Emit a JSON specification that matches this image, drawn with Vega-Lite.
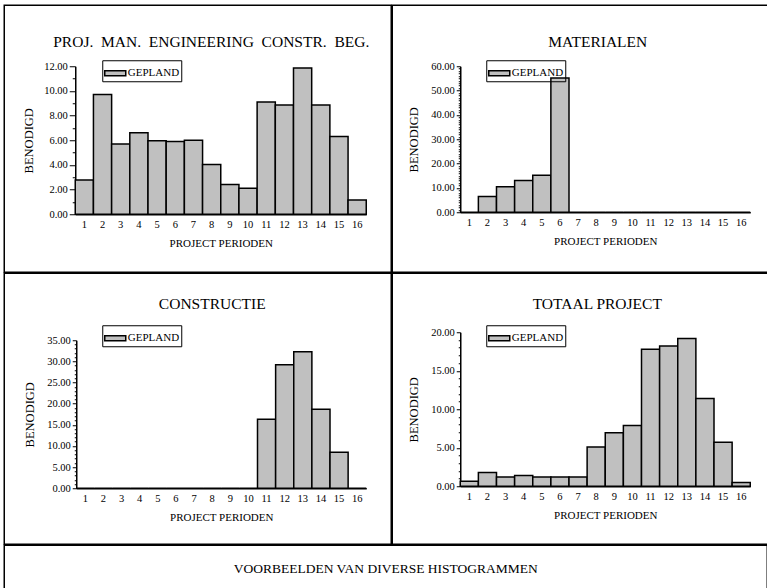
{
  "$schema": "https://vega.github.io/schema/vega-lite/v6.json",
  "padding": {"left": 3.25, "top": 4.25, "right": 0, "bottom": 0},
  "datasets": {
    "proj": [
      {"periode": 1, "benodigd": 2.77}, {"periode": 2, "benodigd": 9.7}, {"periode": 3, "benodigd": 5.7}, {"periode": 4, "benodigd": 6.6},
      {"periode": 5, "benodigd": 5.95}, {"periode": 6, "benodigd": 5.9}, {"periode": 7, "benodigd": 6.0}, {"periode": 8, "benodigd": 4.03},
      {"periode": 9, "benodigd": 2.42}, {"periode": 10, "benodigd": 2.1}, {"periode": 11, "benodigd": 9.1}, {"periode": 12, "benodigd": 8.85},
      {"periode": 13, "benodigd": 11.85}, {"periode": 14, "benodigd": 8.85}, {"periode": 15, "benodigd": 6.3}, {"periode": 16, "benodigd": 1.15}
    ],
    "mat": [
      {"periode": 1, "benodigd": 0}, {"periode": 2, "benodigd": 6.5}, {"periode": 3, "benodigd": 10.5}, {"periode": 4, "benodigd": 13.0},
      {"periode": 5, "benodigd": 15.2}, {"periode": 6, "benodigd": 55.2}, {"periode": 7, "benodigd": 0}, {"periode": 8, "benodigd": 0},
      {"periode": 9, "benodigd": 0}, {"periode": 10, "benodigd": 0}, {"periode": 11, "benodigd": 0}, {"periode": 12, "benodigd": 0},
      {"periode": 13, "benodigd": 0}, {"periode": 14, "benodigd": 0}, {"periode": 15, "benodigd": 0}, {"periode": 16, "benodigd": 0}
    ],
    "con": [
      {"periode": 1, "benodigd": 0}, {"periode": 2, "benodigd": 0}, {"periode": 3, "benodigd": 0}, {"periode": 4, "benodigd": 0},
      {"periode": 5, "benodigd": 0}, {"periode": 6, "benodigd": 0}, {"periode": 7, "benodigd": 0}, {"periode": 8, "benodigd": 0},
      {"periode": 9, "benodigd": 0}, {"periode": 10, "benodigd": 0}, {"periode": 11, "benodigd": 16.3}, {"periode": 12, "benodigd": 29.2},
      {"periode": 13, "benodigd": 32.3}, {"periode": 14, "benodigd": 18.7}, {"periode": 15, "benodigd": 8.5}, {"periode": 16, "benodigd": 0}
    ],
    "tot": [
      {"periode": 1, "benodigd": 0.65}, {"periode": 2, "benodigd": 1.8}, {"periode": 3, "benodigd": 1.2}, {"periode": 4, "benodigd": 1.4},
      {"periode": 5, "benodigd": 1.2}, {"periode": 6, "benodigd": 1.2}, {"periode": 7, "benodigd": 1.2}, {"periode": 8, "benodigd": 5.1},
      {"periode": 9, "benodigd": 6.95}, {"periode": 10, "benodigd": 7.9}, {"periode": 11, "benodigd": 17.8}, {"periode": 12, "benodigd": 18.2},
      {"periode": 13, "benodigd": 19.2}, {"periode": 14, "benodigd": 11.4}, {"periode": 15, "benodigd": 5.7}, {"periode": 16, "benodigd": 0.5}
    ]
  },
  "spacing": -1.5,
  "resolve": {"scale": {"color": "independent"}, "legend": {"color": "independent"}},
  "vconcat": [
    {
      "hconcat": [
        {
          "width": 387, "height": 267,
          "title": {"text": "PROJ.\u00a0 MAN.\u00a0 ENGINEERING\u00a0 CONSTR.\u00a0 BEG.", "offset": -45.5, "dx": 13.5},
          "data": {"name": "proj"},
          "mark": {"type": "bar", "stroke": "black", "strokeWidth": 1.5},
          "encoding": {
            "x": {"field": "periode", "type": "ordinal", "scale": {"range": [71, 362], "paddingInner": 0, "paddingOuter": 0}, "axis": {"title": "PROJECT PERIODEN", "offset": -58}},
            "y": {"field": "benodigd", "type": "quantitative", "scale": {"domain": [0, 12], "range": [209, 61], "nice": false},
              "axis": {"title": "BENODIGD", "offset": -71, "values": [0,1,2,3,4,5,6,7,8,9,10,11,12],
                "labelExpr": "datum.value % 2 === 0 ? format(datum.value, '.2f') : ''",
                "tickSize": {"condition": {"test": "datum.value % 2 === 0", "value": 6}, "value": 3}}},
            "color": {"datum": "GEPLAND", "scale": {"range": ["#c0c0c0"]}, "legend": {"title": null, "orient": "none", "legendX": 98, "legendY": 55}}
          }
        },
        {
          "width": 376, "height": 267,
          "title": {"text": "MATERIALEN", "offset": -45.5, "dx": 17.5},
          "data": {"name": "mat"},
          "mark": {"type": "bar", "stroke": "black", "strokeWidth": 1.5},
          "encoding": {
            "x": {"field": "periode", "type": "ordinal", "scale": {"range": [68, 358], "paddingInner": 0, "paddingOuter": 0}, "axis": {"title": "PROJECT PERIODEN", "offset": -60}},
            "y": {"field": "benodigd", "type": "quantitative", "scale": {"domain": [0, 60], "range": [207, 61], "nice": false},
              "axis": {"title": "BENODIGD", "offset": -68, "values": [0,1,2,3,4,5,6,7,8,9,10,11,12,13,14,15,16,17,18,19,20,21,22,23,24,25,26,27,28,29,30,31,32,33,34,35,36,37,38,39,40,41,42,43,44,45,46,47,48,49,50,51,52,53,54,55,56,57,58,59,60],
                "labelExpr": "datum.value % 10 === 0 ? format(datum.value, '.2f') : ''",
                "tickSize": {"condition": {"test": "datum.value % 10 === 0", "value": 4}, "value": 2}}},
            "color": {"datum": "GEPLAND", "scale": {"range": ["#c0c0c0"]}, "legend": {"title": null, "orient": "none", "legendX": 94, "legendY": 55}}
          }
        }
      ],
      "spacing": -1.5,
      "resolve": {"scale": {"color": "independent"}, "legend": {"color": "independent"}}
    },
    {
      "hconcat": [
        {
          "width": 387, "height": 271,
          "title": {"text": "CONSTRUCTIE", "offset": -39, "dx": 14.5},
          "data": {"name": "con"},
          "mark": {"type": "bar", "stroke": "black", "strokeWidth": 1.5},
          "encoding": {
            "x": {"field": "periode", "type": "ordinal", "scale": {"range": [72, 362], "paddingInner": 0, "paddingOuter": 0}, "axis": {"title": "PROJECT PERIODEN", "offset": -56}},
            "y": {"field": "benodigd", "type": "quantitative", "scale": {"domain": [0, 35], "range": [215, 67], "nice": false},
              "axis": {"title": "BENODIGD", "offset": -72, "values": [0,1,2,3,4,5,6,7,8,9,10,11,12,13,14,15,16,17,18,19,20,21,22,23,24,25,26,27,28,29,30,31,32,33,34,35],
                "labelExpr": "datum.value % 5 === 0 ? format(datum.value, '.2f') : ''",
                "tickSize": {"condition": {"test": "datum.value % 5 === 0", "value": 4}, "value": 2}}},
            "color": {"datum": "GEPLAND", "scale": {"range": ["#c0c0c0"]}, "legend": {"title": null, "orient": "none", "legendX": 98, "legendY": 52}}
          }
        },
        {
          "width": 376, "height": 271,
          "title": {"text": "TOTAAL PROJECT", "offset": -39, "dx": 17},
          "data": {"name": "tot"},
          "mark": {"type": "bar", "stroke": "black", "strokeWidth": 1.5},
          "encoding": {
            "x": {"field": "periode", "type": "ordinal", "scale": {"range": [68, 358], "paddingInner": 0, "paddingOuter": 0}, "axis": {"title": "PROJECT PERIODEN", "offset": -58}},
            "y": {"field": "benodigd", "type": "quantitative", "scale": {"domain": [0, 20], "range": [213, 59], "nice": false},
              "axis": {"title": "BENODIGD", "offset": -68, "values": [0,1,2,3,4,5,6,7,8,9,10,11,12,13,14,15,16,17,18,19,20],
                "labelExpr": "datum.value % 5 === 0 ? format(datum.value, '.2f') : ''",
                "tickSize": {"condition": {"test": "datum.value % 5 === 0", "value": 4}, "value": 2}}},
            "color": {"datum": "GEPLAND", "scale": {"range": ["#c0c0c0"]}, "legend": {"title": null, "orient": "none", "legendX": 94, "legendY": 52}}
          }
        }
      ],
      "spacing": -1.5,
      "resolve": {"scale": {"color": "independent"}, "legend": {"color": "independent"}}
    },
    {
      "width": 763, "height": 44,
      "view": {"stroke": "black", "strokeWidth": 1.5},
      "data": {"values": [{"tekst": "VOORBEELDEN VAN DIVERSE HISTOGRAMMEN"}]},
      "mark": {"type": "text", "fontSize": 13.5, "dy": 2, "color": "black", "font": "Liberation Serif"},
      "encoding": {"text": {"field": "tekst"}}
    }
  ],
  "config": {
    "font": "Liberation Serif",
    "view": {"stroke": "black", "strokeWidth": 1.5},
    "text": {"font": "Liberation Serif"},
    "axis": {"labelFont": "Liberation Serif", "titleFont": "Liberation Serif", "domainColor": "black", "domainWidth": 1.5, "tickColor": "black", "tickWidth": 1, "labelColor": "black", "titleColor": "black", "labelFontSize": 10.5, "titleFontWeight": "normal", "grid": false, "labelOverlap": false, "labelFlush": false, "labelBound": false},
    "axisX": {"ticks": false, "labelPadding": 5, "labelAngle": 0, "titleFontSize": 11, "titleY": 29, "titleBaseline": "middle"},
    "axisY": {"titleFontSize": 12.5, "titleX": -47, "titleBaseline": "middle", "labelPadding": 2},
    "title": {"font": "Liberation Serif", "fontSize": 15.5, "fontWeight": "normal", "color": "black", "anchor": "middle", "frame": "group", "baseline": "alphabetic"},
    "legend": {"labelFont": "Liberation Serif", "strokeColor": "black", "padding": 1.5, "symbolType": "M-1,-0.24H1V0.24H-1Z", "symbolSize": 441, "symbolStrokeColor": "black", "symbolStrokeWidth": 1.5, "symbolOpacity": 1, "labelFontSize": 11, "labelOffset": 1, "labelColor": "black"}
  }
}
